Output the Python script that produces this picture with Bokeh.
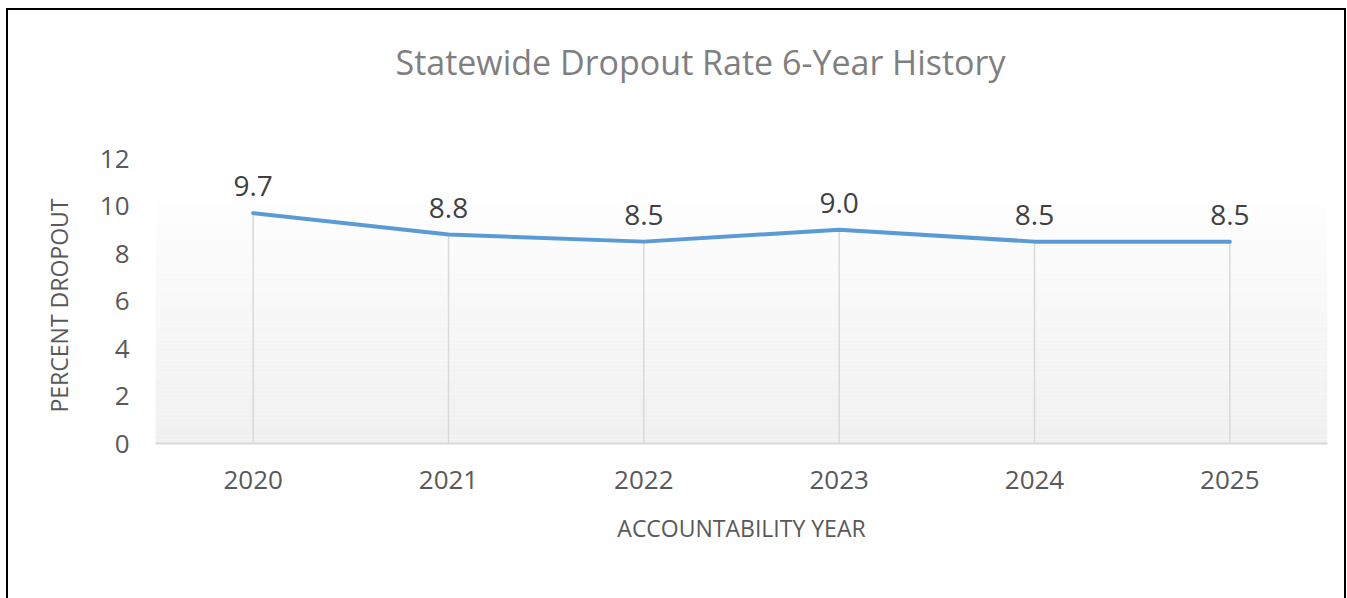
from bokeh.plotting import figure
from bokeh.models import Range1d, FixedTicker, ColumnDataSource, Label, Title
from bokeh.core.properties import value
from bokeh.embed import file_html
from bokeh.resources import INLINE

years = [2020, 2021, 2022, 2023, 2024, 2025]
rates = [9.7, 8.8, 8.5, 9.0, 8.5, 8.5]
rate_labels = ["9.7", "8.8", "8.5", "9.0", "8.5", "8.5"]
y_ticks = [0, 2, 4, 6, 8, 10, 12]
title_text = "Statewide Dropout Rate 6-Year History"
x_title = "ACCOUNTABILITY YEAR"
y_title = "PERCENT DROPOUT"

FONT = "Open Sans"

# frame spans the full top of the canvas; 0..12 occupies the lower 285 px
px_per_unit = 285 / 12
frame_h = 433
y_end = frame_h / px_per_unit

p = figure(width=1340, height=600, output_backend="svg", toolbar_location=None,
           x_range=Range1d(2019.5, 2025.5), y_range=Range1d(0, y_end),
           min_border_left=147, min_border_right=21, min_border_top=0, min_border_bottom=167,
           styles={"margin-left": "6px", "margin-top": "8px", "border": "2px solid black"})
p.background_fill_color = "white"
p.border_fill_color = "white"
p.outline_line_color = None
p.grid.visible = False

# gradient plot-area background (decorative)
n = 60
top_v = 10.53
for i in range(n):
    t = i / (n - 1)
    c = int(round(240 + (254 - 240) * t))
    p.quad(left=2019.5, right=2025.5, bottom=top_v * i / n, top=top_v * (i + 1) / n,
           fill_color=(c, c, c), line_color=None)

src = ColumnDataSource(dict(x=years, y=rates, lab=rate_labels, zero=[0] * len(years)))
p.segment(x0="x", y0="zero", x1="x", y1="y", source=src, line_color="#d9d9d9", line_width=1.5)
p.line(x="x", y="y", source=src, line_color="#5b9bd5", line_width=4, line_cap="round", line_join="round")
p.text(x="x", y="y", text="lab", source=src, text_font=value(FONT), text_font_size="28px",
       text_color="#404040", text_align="center", text_baseline="alphabetic", y_offset=-27)

p.add_layout(Label(x=2022.29, y=(frame_h - 51) / px_per_unit, text=title_text,
                   text_font=FONT, text_font_size="34px", text_color="#7f7f7f",
                   text_align="center", text_baseline="alphabetic"))

xa = p.xaxis[0]
xa.ticker = FixedTicker(ticks=years)
xa.major_label_overrides = {y: str(y) for y in years}
xa.axis_line_color = "#d9d9d9"
xa.axis_line_width = 2
xa.major_tick_line_color = None
xa.minor_tick_line_color = None
xa.major_label_text_font = FONT
xa.major_label_text_font_size = "26px"
xa.major_label_text_color = "#595959"
xa.major_label_standoff = 21
xa.axis_label = x_title
xa.axis_label_text_font = FONT
xa.axis_label_text_font_size = "23px"
xa.axis_label_text_font_style = "normal"
xa.axis_label_text_color = "#595959"
xa.axis_label_standoff = 20

ya = p.yaxis[0]
ya.ticker = FixedTicker(ticks=y_ticks)
ya.axis_line_color = None
ya.major_tick_line_color = None
ya.minor_tick_line_color = None
ya.major_label_text_font = FONT
ya.major_label_text_font_size = "26px"
ya.major_label_text_color = "#595959"
ya.major_label_standoff = 20

p.add_layout(Title(text=y_title, align="left", offset=31, standoff=44,
                   text_font=FONT, text_font_size="23px", text_font_style="normal",
                   text_color="#595959"), "left")

open("out.html", "w").write(file_html(p, INLINE))
